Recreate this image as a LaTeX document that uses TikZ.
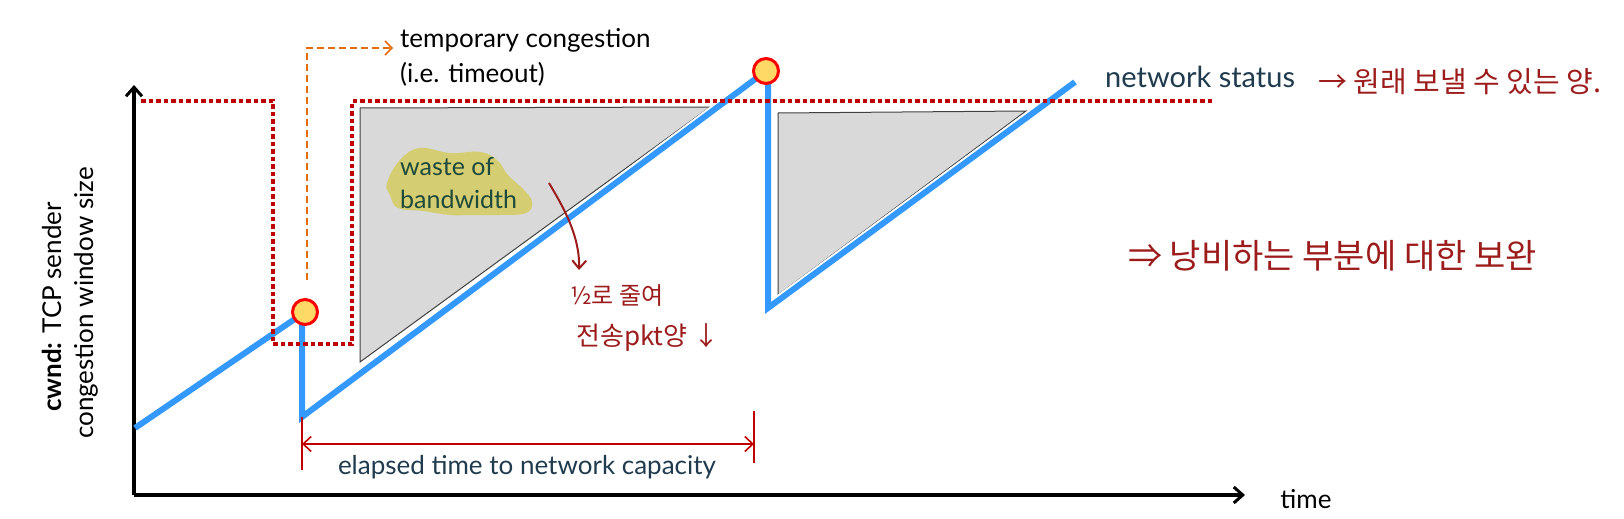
\documentclass[tikz,border=0pt]{standalone}
\usepackage{fontspec}
\setmainfont{Lato}
\newfontfamily\krfont{Noto Sans CJK KR}
\usetikzlibrary{arrows.meta}
\definecolor{netred}{HTML}{C00000}
\definecolor{cblue}{HTML}{3399FF}
\definecolor{txtc}{HTML}{1F3B4D}
\definecolor{greentxt}{HTML}{1E4A3C}
\definecolor{hand}{HTML}{9C1C1C}
\definecolor{orng}{HTML}{E46C0A}
\definecolor{hlc}{HTML}{D5CD72}
\definecolor{tric}{HTML}{D9D9D9}
\definecolor{circfill}{HTML}{FFD966}
\begin{document}
\begin{tikzpicture}[x=1pt,y=-1pt,
  axisline/.style={line width=3.5pt,-{Straight Barb[length=9pt,width=16pt,line width=3pt]}},
  netline/.style={netred,line width=4.5pt,dash pattern=on 4.5pt off 3pt},
  cwndgap/.style={white,line width=10pt,line join=miter},
  cwndline/.style={cblue,line width=6pt,line join=miter},
  lossdot/.style={circle,minimum size=25pt,inner sep=0pt,fill=circfill,draw=red,line width=3pt},
  waste/.style={fill=tric,draw=black!75,line width=1pt},
  lbl/.style={inner sep=0pt,font=\fontsize{26}{30}\selectfont},
  handtxt/.style={inner sep=0pt,text=hand},
  elapsed/.style={netred,line width=1.6pt},
]
\useasboundingbox (0,0) rectangle (1624,519);

% waste triangles
\coordinate (t1a) at (360,108); \coordinate (t1b) at (710,107); \coordinate (t1c) at (360,362);
\coordinate (t2a) at (778,113); \coordinate (t2b) at (1026,111); \coordinate (t2c) at (778,295);
\filldraw[waste] (t1a) -- (t1b) -- (t1c) -- cycle;
\filldraw[waste] (t2a) -- (t2b) -- (t2c) -- cycle;

% highlight blob
\fill[hlc] plot[smooth cycle,tension=0.7] coordinates {(387,183) (400,160) (420,148) (450,153) (480,152) (497,160) (508,175) (524,190) (532,202) (526,213) (500,215) (473,215) (450,215) (423,211) (398,208) (390,195)};

% axes
\coordinate (O) at (134,495);
\coordinate (ytop) at (134,85);
\coordinate (xend) at (1245,495);
\draw[axisline] (O) -- (ytop);
\draw[axisline] (O) -- (xend);
\node[lbl,anchor=base] (time) at (1306,508) {time};

% cwnd line
\coordinate (c0) at (135,428);
\coordinate (l1) at (305,312);
\coordinate (l2) at (766,71);
\coordinate (c1a) at (302,312);
\coordinate (c1) at (302,417);
\coordinate (c2a) at (768,71);
\coordinate (c2) at (768,308);
\coordinate (c3) at (1075,82);
\draw[cwndgap] (c1) -- (l2);
\draw[cwndgap] (c2) -- (c3);
\draw[cwndline] (c0) -- (l1);
\draw[cwndline] (c1a) -- (c1) -- (l2);
\draw[cwndline] (c2a) -- (c2) -- (c3);

% network status line
\coordinate (n0) at (141,101); \coordinate (n1) at (273,101); \coordinate (n2) at (273,344);
\coordinate (n3) at (352,344); \coordinate (n4) at (352,101); \coordinate (n5) at (1213,101);
\draw[netline] (n0) -- (n1) -- (n2) -- (n3) -- (n4) -- (n5);

\node[lossdot] (loss1) at (l1) {};
\node[lossdot] (loss2) at (l2) {};

% orange pointer
\coordinate (o0) at (307,280); \coordinate (o1) at (307,48); \coordinate (o2) at (393,48);
\draw[orng,line width=1.5pt,dash pattern=on 7pt off 4pt,-{Straight Barb[length=7pt,width=14pt]}] (o0) -- (o1) -- (o2);
\node[lbl,anchor=base west] (tc) at (400,48) {temporary congestion};
\node[lbl,anchor=base west] (to) at (400,82) {(i.e. timeout)};

% labels
\node[lbl,anchor=base west,text=txtc,font=\fontsize{29}{33}\selectfont] (ns) at (1105,88) {network status};
\node[lbl,anchor=base west,text=greentxt,font=\fontsize{25}{29}\selectfont] (w1) at (400,175) {waste of};
\node[lbl,anchor=base west,text=greentxt,font=\fontsize{25}{29}\selectfont] (w2) at (400,208) {bandwidth};

% y label
\node[lbl,anchor=base,rotate=90] (yl1) at (61,307) {\textbf{cwnd:} TCP sender};
\node[lbl,anchor=base,rotate=90] (yl2) at (93,303) {congestion window size};

% elapsed time
\coordinate (e1a) at (302,417); \coordinate (e1b) at (302,470);
\coordinate (e2a) at (754,411); \coordinate (e2b) at (754,463);
\coordinate (e1m) at (302,444); \coordinate (e2m) at (754,444);
\draw[elapsed] (e1a) -- (e1b);
\draw[elapsed] (e2a) -- (e2b);
\draw[elapsed,{Straight Barb[length=8pt,width=15pt]}-{Straight Barb[length=8pt,width=15pt]}] (e1m) -- (e2m);
\node[lbl,anchor=base,text=txtc] (el) at (527,474) {elapsed time to network capacity};

% handwritten notes
\node[handtxt,anchor=west,font=\krfont\fontsize{29}{33}\selectfont] (h1) at (1318,82) {→ 원래 보낼 수 있는 양.};
\node[handtxt,anchor=west,font=\krfont\fontsize{34}{38}\selectfont] (h2) at (1128,256) {⇒ 낭비하는 부분에 대한 보완};
\node[handtxt,anchor=west,font=\krfont\fontsize{24}{28}\selectfont] (h3) at (570,296) {½로 줄여};
\node[handtxt,anchor=west,font=\krfont\fontsize{26}{30}\selectfont] (h4) at (576,338) {전송pkt양 ↓};
\coordinate (ca) at (549,183);
\coordinate (cb) at (579,270);
\draw[hand,line width=2pt,-{Straight Barb[length=8pt,width=14pt]}] (ca) .. controls (562,205) and (580,235) .. (cb);
\end{tikzpicture}
\end{document}
